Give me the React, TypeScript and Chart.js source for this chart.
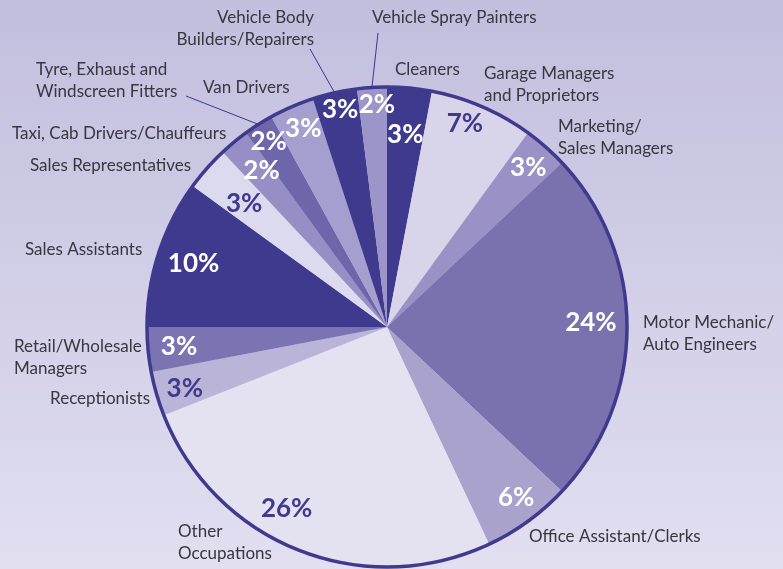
import React, { useEffect, useRef } from "react";
import { Chart, registerables } from "chart.js";

Chart.register(...registerables);

// ---- data ----
const categories = [
  "Cleaners",
  "Garage Managers and Proprietors",
  "Marketing/Sales Managers",
  "Motor Mechanic/Auto Engineers",
  "Office Assistant/Clerks",
  "Other Occupations",
  "Receptionists",
  "Retail/Wholesale Managers",
  "Sales Assistants",
  "Sales Representatives",
  "Taxi, Cab Drivers/Chauffeurs",
  "Tyre, Exhaust and Windscreen Fitters",
  "Van Drivers",
  "Vehicle Body Builders/Repairers",
  "Vehicle Spray Painters",
];

const shares = [3, 7, 3, 24, 6, 26, 3, 3, 10, 3, 2, 2, 3, 3, 2];

const labelLines = [
  ["Cleaners"],
  ["Garage Managers", "and Proprietors"],
  ["Marketing/", "Sales Managers"],
  ["Motor Mechanic/", "Auto Engineers"],
  ["Office Assistant/Clerks"],
  ["Other", "Occupations"],
  ["Receptionists"],
  ["Retail/Wholesale", "Managers"],
  ["Sales Assistants"],
  ["Sales Representatives"],
  ["Taxi, Cab Drivers/Chauffeurs"],
  ["Tyre, Exhaust and", "Windscreen Fitters"],
  ["Van Drivers"],
  ["Vehicle Body", "Builders/Repairers"],
  ["Vehicle Spray Painters"],
];

// ---- styles / layout ----
const DARK = "#3f3a8e";
const sliceColors = [
  DARK, "#d8d5eb", "#9a92c6", "#7a72ae", "#a8a2cc",
  "#e4e2f1", "#bab4d9", "#7b74b2", DARK, "#dcdaee",
  "#968ec5", "#6e66aa", "#a59fcf", DARK, "#9c95c9",
];
const pctColors = [
  "#ffffff", DARK, "#ffffff", "#ffffff", "#ffffff",
  DARK, DARK, "#ffffff", "#ffffff", DARK,
  "#ffffff", "#ffffff", "#ffffff", "#ffffff", "#ffffff",
];
const pctRadius = [0.81, 0.91, 0.89, 0.85, 0.89, 0.86, 0.88, 0.87, 0.85, 0.79, 0.84, 0.92, 0.9, 0.93, 0.93];
const pctAngleShift = [0, -2.5, 0, -1.4, -1.2, 7.5, -0.6, 0.4, 0.5, -0.3, 1.1, 0, 0.6, 0.5, 1];

// label anchor: [x, y(first line centre), align]
const labelAnchors: [number, number, CanvasTextAlign][] = [
  [395, 69, "left"],
  [484, 73, "left"],
  [558, 126, "left"],
  [643, 322, "left"],
  [529, 536, "left"],
  [178, 531, "left"],
  [150, 398, "right"],
  [14, 346, "left"],
  [25, 249, "left"],
  [30, 165, "left"],
  [12, 133, "left"],
  [36, 69, "left"],
  [203, 87, "left"],
  [314, 17, "right"],
  [372, 17, "left"],
];
// leader line start points (end is the slice's outer edge)
const leaders: { [k: number]: [number, number] } = {
  11: [186, 96],
  13: [310, 49],
  14: [378, 33],
};

const LABEL_FONT = 17;
const LINE_H = 22;
const PCT_FONT = 26;

const overlay = {
  id: "overlay",
  afterDatasetsDraw(chart: any) {
    const ctx: CanvasRenderingContext2D = chart.ctx;
    const meta = chart.getDatasetMeta(0);
    const a0 = meta.data[0] as any;
    const cx = a0.x, cy = a0.y, R = a0.outerRadius;
    ctx.save();

    // percentages
    ctx.font = `700 ${PCT_FONT}px Lato, "Open Sans", sans-serif`;
    ctx.textAlign = "center";
    ctx.textBaseline = "alphabetic";
    meta.data.forEach((el: any, i: number) => {
      const mid = (el.startAngle + el.endAngle) / 2 + (pctAngleShift[i] * Math.PI) / 180;
      const r = R * pctRadius[i];
      ctx.fillStyle = pctColors[i];
      ctx.fillText(`${shares[i]}%`, cx + r * Math.cos(mid), cy + r * Math.sin(mid) + PCT_FONT * 0.36);
    });

    // outline
    ctx.beginPath();
    ctx.arc(cx, cy, R, 0, Math.PI * 2);
    ctx.lineWidth = 3.5;
    ctx.strokeStyle = DARK;
    ctx.stroke();

    // leader lines
    ctx.lineWidth = 1;
    ctx.strokeStyle = "#3a3790";
    Object.keys(leaders).forEach((k) => {
      const i = Number(k);
      const el = meta.data[i] as any;
      const mid = (el.startAngle + el.endAngle) / 2;
      const [sx, sy] = leaders[i];
      ctx.beginPath();
      ctx.moveTo(sx, sy);
      ctx.lineTo(cx + R * Math.cos(mid), cy + R * Math.sin(mid));
      ctx.stroke();
    });

    // outer labels
    ctx.font = `400 ${LABEL_FONT}px Lato, "Open Sans", sans-serif`;
    ctx.fillStyle = "#38363f";
    labelLines.forEach((lines, i) => {
      const [x, y, align] = labelAnchors[i];
      ctx.textAlign = align;
      lines.forEach((t, j) => {
        ctx.fillText(t, x, y + j * LINE_H + LABEL_FONT * 0.36);
      });
    });
    ctx.restore();
  },
};

export default function App() {
  const ref = useRef<HTMLCanvasElement | null>(null);
  useEffect(() => {
    document.body.style.margin = "0";
    if (!ref.current) return;
    const chart = new Chart(ref.current, {
      type: "pie",
      data: {
        labels: categories,
        datasets: [
          {
            data: shares,
            backgroundColor: sliceColors,
            borderWidth: 0,
            hoverOffset: 0,
          },
        ],
      },
      options: {
        responsive: false,
        animation: false,
        devicePixelRatio: 1,
        rotation: 0,
        layout: { padding: { left: 147, right: 156, top: 87, bottom: 2 } },
        plugins: {
          legend: { display: false },
          tooltip: { enabled: false },
        },
        events: [],
      },
      plugins: [overlay],
    });
    return () => chart.destroy();
  }, []);
  return (
    <div
      style={{
        position: "absolute",
        left: 0,
        top: 0,
        width: 783,
        height: 569,
        background: "linear-gradient(to bottom, #c2bede 0%, #e1dff0 100%)",
      }}
    >
      <canvas ref={ref} width={783} height={569} style={{ display: "block" }} />
    </div>
  );
}
